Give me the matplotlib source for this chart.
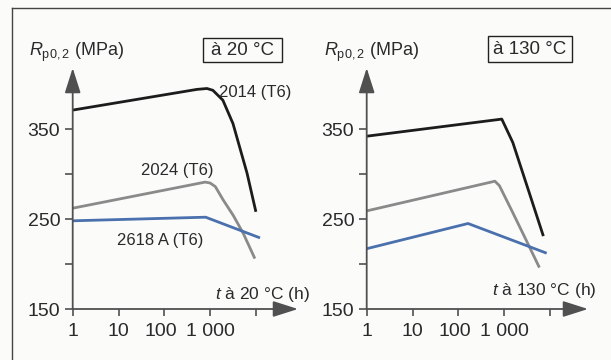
import matplotlib
matplotlib.use("Agg")
import matplotlib.pyplot as plt
from matplotlib.lines import Line2D
from matplotlib.patches import Rectangle
import matplotlib.transforms as mtrans

plt.rcParams['font.family'] = ['Liberation Sans', 'DejaVu Sans']
plt.rcParams['mathtext.fontset'] = 'custom'
plt.rcParams['mathtext.rm'] = 'Liberation Sans'
plt.rcParams['mathtext.it'] = 'Liberation Sans:italic'

# ---- data (hours, MPa) ----
t_2014_20 = [1, 515, 855, 1150, 1900, 3160, 6400, 10000]
r_2014_20 = [371, 394, 395, 393, 382, 356, 301, 258]
t_2024_20 = [1, 780, 1000, 1300, 1940, 3200, 5300, 9500]
r_2024_20 = [262, 291, 290, 286, 271, 254, 234, 206]
t_2618_20 = [1, 800, 12300]
r_2618_20 = [248, 252, 229]

t_2014_130 = [1, 890, 1550, 3550, 7200]
r_2014_130 = [342, 361, 335, 279, 231]
t_2024_130 = [1, 630, 790, 1550, 3000, 5900]
r_2024_130 = [259, 292, 287, 257, 227, 196]
t_2618_130 = [1, 163, 8500]
r_2618_130 = [217, 245, 212]

y_ticks = [150, 200, 250, 300, 350]
y_labels = ['150', '', '250', '', '350']
x_ticks = [1, 10, 100, 1000, 10000]
x_labels = ['1', '10', '100', '1 000', '']

c_black = '#1c1c1c'
c_gray = '#8a8a8a'
c_blue = '#4a70ad'
c_axis = '#505050'
tc = '#2a2a2a'

W, H = 611, 360
fig = plt.figure(figsize=(W / 100, H / 100), dpi=100)
fig.patch.set_facecolor('#fbfbfa')

# outer frame (left + top)
fig.add_artist(Line2D([12 / W, 12 / W], [0, 1 - 8 / H], color='#444444', lw=1.0))
fig.add_artist(Line2D([12 / W, 1], [1 - 8 / H, 1 - 8 / H], color='#444444', lw=1.0))

def px_axes(x0, x1, y0, y1):
    return fig.add_axes([x0 / W, 1 - y1 / H, (x1 - x0) / W, (y1 - y0) / H])

def setup(ax, xmax):
    ax.set_xscale('log')
    ax.set_xlim(1, xmax)
    ax.set_ylim(150, 150 + 241 / 0.9)
    ax.patch.set_alpha(0)
    for s in ax.spines.values():
        s.set_visible(False)
    ax.set_yticks(y_ticks)
    ax.set_yticklabels(y_labels)
    ax.set_xticks(x_ticks)
    ax.set_xticklabels(x_labels)
    ax.minorticks_off()
    ax.tick_params(axis='both', direction='out', width=1.2, color=c_axis,
                   labelsize=14, labelcolor=tc)
    ax.tick_params(axis='x', length=5, pad=5)
    ax.tick_params(axis='y', length=6, pad=3)
    arr = dict(arrowstyle='-|>,head_length=1.1,head_width=0.35', color=c_axis,
               lw=1.3, shrinkA=0, shrinkB=0, mutation_scale=14)
    ax.annotate('', xy=(1, 0), xytext=(0, 0), xycoords='axes fraction', arrowprops=arr)
    ax.annotate('', xy=(0, 1), xytext=(0, 0), xycoords='axes fraction', arrowprops=arr)
    offs = [0, 0, -3, 0, 0]
    for lab, o in zip(ax.get_xticklabels(), offs):
        lab.set_transform(lab.get_transform() + mtrans.ScaledTranslation(o / 100, 0, fig.dpi_scale_trans))

# left panel
ax1 = px_axes(72.7, 298, 68, 309)
setup(ax1, 10 ** ((298 - 72.7) / 45.8))
for t, r, c in [(t_2014_20, r_2014_20, c_black), (t_2024_20, r_2024_20, c_gray),
                (t_2618_20, r_2618_20, c_blue)]:
    ax1.plot(t, r, color=c, lw=2.0, solid_joinstyle='round', solid_capstyle='butt')

# right panel
ax2 = px_axes(366.7, 588, 68, 309)
setup(ax2, 10 ** ((588 - 366.7) / 45.8))
for t, r, c in [(t_2014_130, r_2014_130, c_black), (t_2024_130, r_2024_130, c_gray),
                (t_2618_130, r_2618_130, c_blue)]:
    ax2.plot(t, r, color=c, lw=2.0, solid_joinstyle='round', solid_capstyle='butt')

def ftext(x, y, s, **kw):
    fig.text(x / W, 1 - y / H, s, color=tc, **kw)

def fbox(x0, y0, x1, y1):
    fig.add_artist(Rectangle((x0 / W, 1 - y1 / H), (x1 - x0) / W, (y1 - y0) / H,
                             transform=fig.transFigure, fill=False, ec='#222222', lw=1.0))

ylab = r'$R_{\mathrm{p0,2}}$' + ' (MPa)'
ftext(29, 52, ylab, fontsize=13, ha='left', va='center')
ftext(324, 52, ylab, fontsize=13, ha='left', va='center')

fbox(203, 38, 282, 62)
ftext(242.5, 50.5, 'à 20 °C', fontsize=13.5, ha='center', va='center')
fbox(488, 36, 572, 62)
ftext(530, 49.5, 'à 130 °C', fontsize=13.5, ha='center', va='center')

ftext(255, 92, '2014 (T6)', fontsize=12, ha='center', va='center')
ftext(177, 170, '2024 (T6)', fontsize=12, ha='center', va='center')
ftext(160, 240, '2618 A (T6)', fontsize=12, ha='center', va='center')

ftext(310, 295, r'$t$' + ' à 20 °C (h)', fontsize=12.5, ha='right', va='center')
ftext(596, 291, r'$t$' + ' à 130 °C (h)', fontsize=12.5, ha='right', va='center')

fig.savefig('out.png', dpi=100, facecolor=fig.get_facecolor())
